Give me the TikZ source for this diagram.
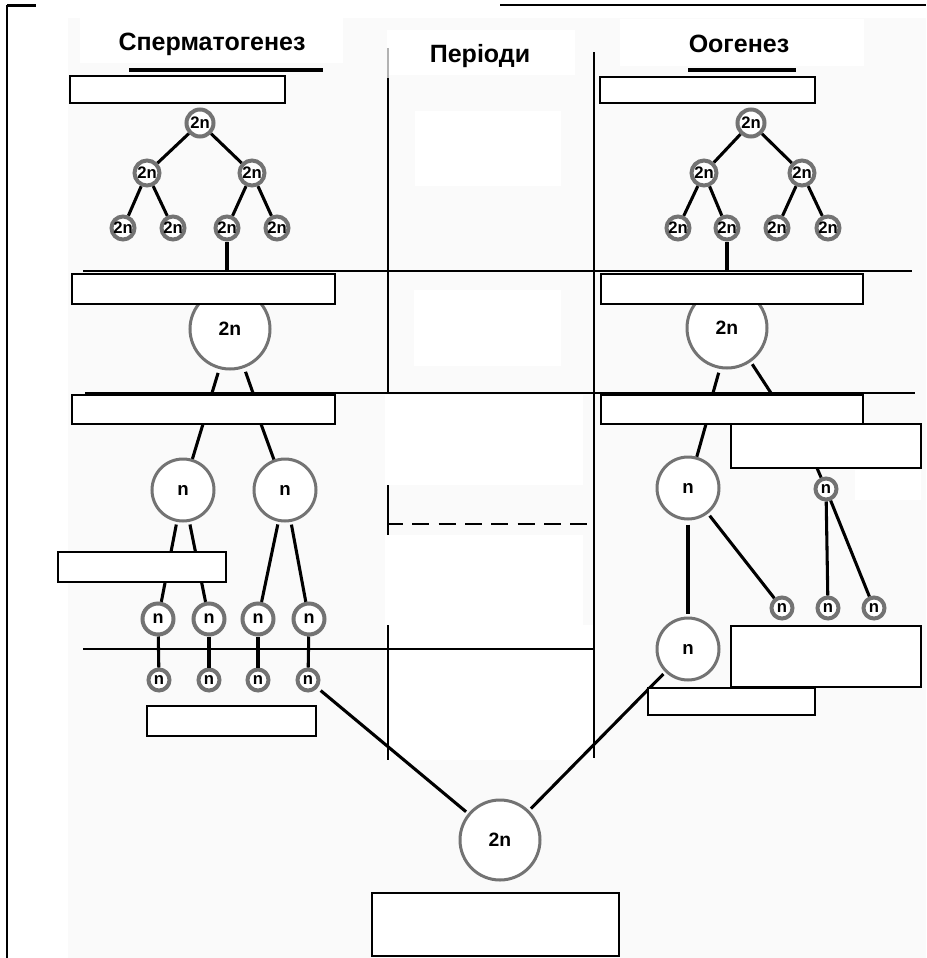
\documentclass[tikz,border=0pt]{standalone}
\usepackage{fontspec}
\setmainfont{Liberation Sans}
\usetikzlibrary{fit}
\definecolor{ring}{RGB}{115,115,115}
\definecolor{paper}{RGB}{250,250,250}
\begin{document}
\begin{tikzpicture}[x=0.75pt,y=-0.75pt,
  conn/.style={line width=2.3pt},
  rule/.style={line width=2pt},
  period/.style={line width=1.8pt},
  box/.style={draw,line width=1.3pt,fill=white,inner sep=0pt,outer sep=0pt},
  head/.style={font=\bfseries\fontsize{18.75}{20}\selectfont,anchor=base,inner sep=0pt},
  cell/.style={circle,draw=ring,fill=white,inner sep=0pt,text=black},
  treeA/.style={cell,line width=3pt,minimum size=20.25pt,font=\bfseries\fontsize{12.5}{13}\selectfont},
  treeB/.style={treeA,minimum size=18.75pt},
  treeC/.style={treeA,minimum size=17.25pt},
  big/.style={cell,line width=2.25pt,minimum size=60pt,font=\bfseries\fontsize{14.5}{15}\selectfont},
  mid/.style={cell,line width=2.25pt,minimum size=46.5pt,font=\bfseries\fontsize{14}{15}\selectfont},
  hapA/.style={cell,line width=3pt,minimum size=23.25pt,font=\bfseries\fontsize{13.5}{14}\selectfont},
  hapB/.style={cell,line width=3pt,minimum size=15.75pt,font=\bfseries\fontsize{12.5}{13}\selectfont},
]
\useasboundingbox (0,0) rectangle (926,958);

% sheet and light panels
\fill[white] (0,0) rectangle (926,958);
\fill[paper] (68,18) rectangle (926,958);
\fill[white] (80,18) rectangle (343,63);
\fill[white] (387,30) rectangle (575,75);
\fill[white] (620,19) rectangle (864,66);
\fill[white] (415,111) rectangle (561,186);
\fill[white] (414,290) rectangle (561,366);
\fill[white] (385,395) rectangle (583,485);
\fill[white] (385,535) rectangle (583,625);
\fill[white] (385,625) rectangle (594,760);
\fill[white] (855,470) rectangle (921,500);

% outer frame
\draw[line width=1.6pt] (7,5.5) -- (36,5.5);
\draw[line width=1.5pt] (7,5) -- (7,958);
\draw[line width=1.5pt] (500,5) -- (926,5);

% column headings
\node[head] (hs) at (212,50) {Сперматогенез};
\node[head] (hp) at (480,62) {Періоди};
\node[head] (ho) at (739,52) {Оогенез};
\draw[line width=2.4pt] (129,70) -- (323,70);
\draw[line width=2.4pt] (688,70) -- (796,70);

% column dividers
\draw[period,black!30] (388,48) -- (388,78);
\draw[period] (388,78) -- (388,393);
\draw[period] (388,485) -- (388,535);
\draw[period] (388,625) -- (388,760);
\draw[period] (594,52) -- (594,758);
\draw[line width=2.2pt,dash pattern=on 12.75pt off 7pt,dash phase=1.5pt] (388,524) -- (594,524);

% stage boundaries
\draw[rule] (83,271) -- (912,271);
\draw[rule] (85,393) -- (915,393);
\draw[rule] (83,649) -- (594,649);

% spermatogenesis: multiplication
\node[treeA] (tl0) at (200,123) {2n};
\node[treeB] (tl1) at (147,173) {2n};
\node[treeB] (tl2) at (252,173) {2n};
\node[treeC] (tl3) at (123,228) {2n};
\node[treeC] (tl4) at (173,228) {2n};
\node[treeC] (tl5) at (227,228) {2n};
\node[treeC] (tl6) at (277,228) {2n};
% oogenesis: multiplication
\node[treeA] (tr0) at (751,123) {2n};
\node[treeB] (tr1) at (704,173) {2n};
\node[treeB] (tr2) at (802,173) {2n};
\node[treeC] (tr3) at (678,228) {2n};
\node[treeC] (tr4) at (727,228) {2n};
\node[treeC] (tr5) at (777,228) {2n};
\node[treeC] (tr6) at (828,228) {2n};

% growth
\node[big] (bl) at (230,329) {2n};
\node[big] (br) at (727,328) {2n};

% maturation, male line
\node[mid] (nl1) at (183,490) {n};
\node[mid] (nl2) at (285,490) {n};
\node[hapA] (s1) at (158,619) {n};
\node[hapA] (s2) at (209,619) {n};
\node[hapA] (s3) at (258,619) {n};
\node[hapA] (s4) at (309,619) {n};
\node[hapB] (t1) at (159,680) {n};
\node[hapB] (t2) at (209,680) {n};
\node[hapB] (t3) at (258,680) {n};
\node[hapB] (t4) at (308,680) {n};

% maturation, female line
\node[mid] (nr1) at (688,488) {n};
\node[mid] (nr2) at (688,649) {n};
\node[hapB] (rm) at (826,489) {n};
\node[hapB] (rs1) at (782,608) {n};
\node[hapB] (rs2) at (828,608) {n};
\node[hapB] (rs3) at (874,608) {n};

% zygote
\node[big] (bb) at (500,840) {2n};

% junction points on the boundaries and boxes
\coordinate (jl1) at (227,271);
\coordinate (jr1) at (727,271);
\coordinate (jl2a) at (212,393);
\coordinate (jl2b) at (253,393);
\coordinate (jr2a) at (713,393);
\coordinate (jr2b) at (771,393);
\coordinate (jl3a) at (203,424);
\coordinate (jl3b) at (261,424);
\coordinate (jr3a) at (706,424);
\coordinate (jr3b) at (817,468);

% connectors
\draw[conn] (tl0) -- (tl1);
\draw[conn] (tl0) -- (tl2);
\draw[conn] (tl1) -- (tl3);
\draw[conn] (tl1) -- (tl4);
\draw[conn] (tl2) -- (tl5);
\draw[conn] (tl2) -- (tl6);
\draw[conn] (tl5) -- (jl1);
\draw[conn] (tr0) -- (tr1);
\draw[conn] (tr0) -- (tr2);
\draw[conn] (tr1) -- (tr3);
\draw[conn] (tr1) -- (tr4);
\draw[conn] (tr2) -- (tr5);
\draw[conn] (tr2) -- (tr6);
\draw[conn] (tr4) -- (jr1);

\draw[conn,shorten <=3pt] (bl.-105) -- (jl2a);
\draw[conn,shorten <=3pt] (bl.-70) -- (jl2b);
\draw[conn,shorten <=3pt] (br.-100) -- (jr2a);
\draw[conn,shorten <=2pt] (br.-55) -- (jr2b);

\draw[conn] (jl3a) -- (nl1);
\draw[conn] (jl3b) -- (nl2);
\draw[conn,shorten <=2pt] (nl1) -- (s1);
\draw[conn,shorten <=2pt] (nl1) -- (s2);
\draw[conn,shorten <=2pt] (nl2) -- (s3);
\draw[conn,shorten <=2pt] (nl2) -- (s4);
\draw[conn] (s1) -- (t1);
\draw[conn] (s2) -- (t2);
\draw[conn] (s3) -- (t3);
\draw[conn] (s4) -- (t4);
\draw[conn,shorten <=3pt,shorten >=2pt] (t4) -- (bb);

\draw[conn] (jr3a) -- (nr1);
\draw[conn,shorten <=3pt,shorten >=2pt] (nr1) -- (nr2);
\draw[conn,shorten <=2pt] (nr1) -- (rs1);
\draw[conn] (jr3b) -- (rm);
\draw[conn] (rm) -- (rs2);
\draw[conn] (rm) -- (rs3);
\draw[conn,shorten <=2pt,shorten >=2pt] (nr2) -- (bb);

% answer boxes
\node[box,fit={(70,76) (285,103)}] (b1l) {};
\node[box,fit={(600,77) (815,103)}] (b1r) {};
\node[box,fit={(72,274) (335,304)}] (b2l) {};
\node[box,fit={(601,274) (863,304)}] (b2r) {};
\node[box,fit={(72,395) (335,424)}] (b3l) {};
\node[box,fit={(601,395) (863,424)}] (b3r) {};
\node[box,fit={(731,424) (921,468)}] (b4r) {};
\node[box,fit={(58,552) (226,582)}] (b4l) {};
\node[box,fit={(147,706) (316,736)}] (b5l) {};
\node[box,fit={(731,626) (921,687)}] (b5r) {};
\node[box,fit={(648,688) (815,715)}] (b6r) {};
\node[box,fit={(372,893) (619,956)}] (bz) {};
\end{tikzpicture}
\end{document}
